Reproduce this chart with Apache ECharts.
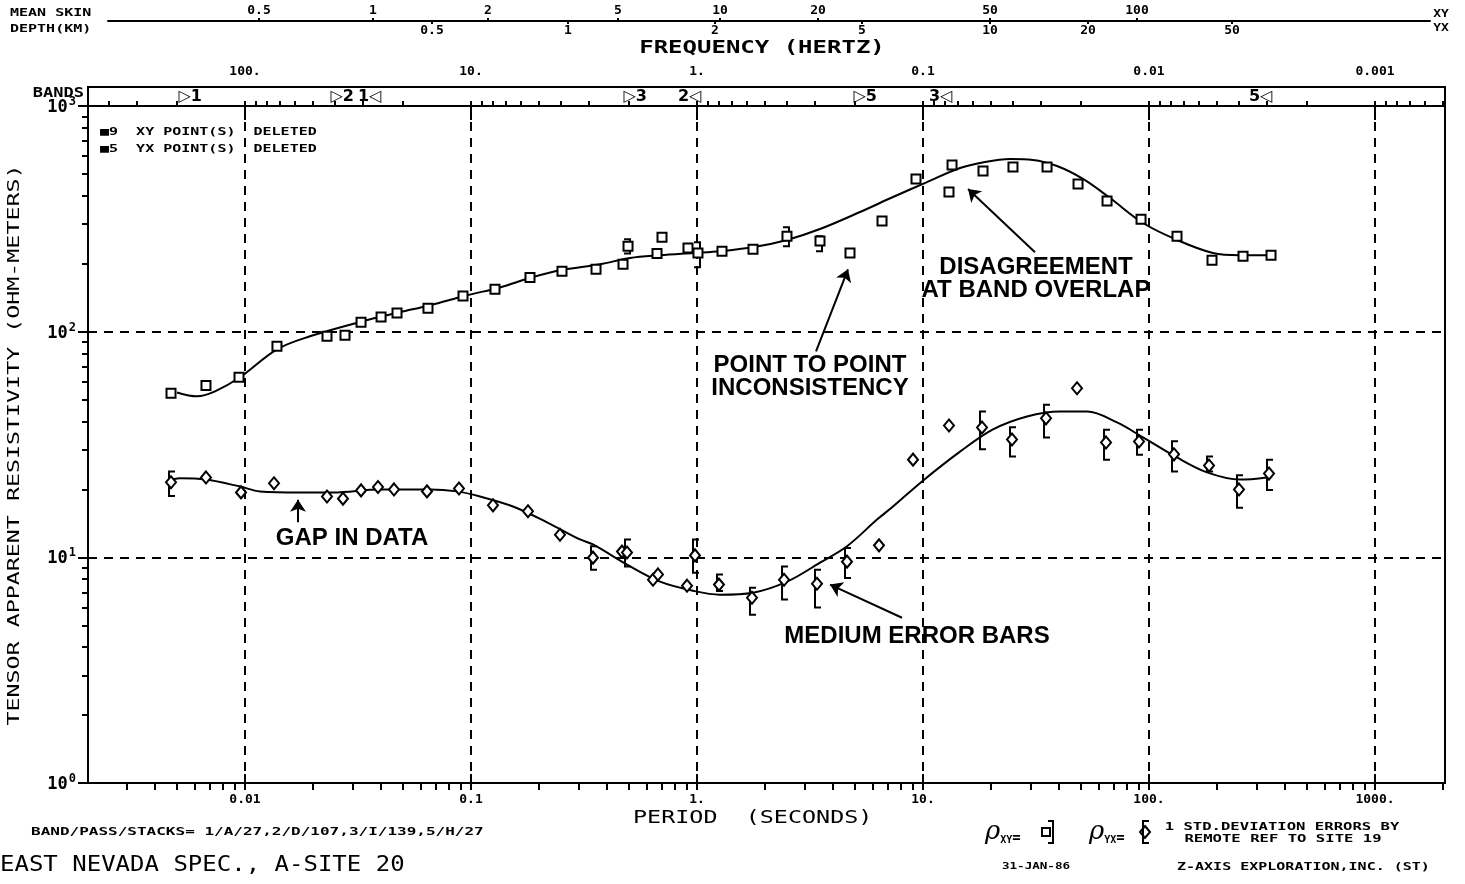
<!DOCTYPE html>
<html>
<head>
<meta charset="utf-8">
<title>East Nevada Spec., A-Site 20</title>
<script src="https://cdn.jsdelivr.net/npm/echarts@6.0.0/dist/echarts.min.js"></script>
<style>
html,body{margin:0;padding:0;background:#fff;}
#chart{width:1465px;height:884px;}
</style>
</head>
<body>
<div id="chart"></div>
<script>
// ---------- data ----------
// XY apparent resistivity (squares): period in seconds, resistivity in ohm-m
const xyPeriod = [0.004706,0.00672,0.00941,0.01385,0.02306,0.0277,0.03262,0.0400,0.04706,0.06451,0.09218,0.1277,0.1824,0.2527,0.3574,0.4706,0.4952,0.6653,0.700,0.9124,1.010,1.290,1.769,2.501,3.501,4.753,6.586,9.311,13.44,13.03,18.43,25.01,35.38,48.52,65.20,92.18,133.0,190.0,260.6,346.6];
const xyRho    = [53.3,57.8,62.8,86.1,95.4,96.4,110,116,121,127,144,154,174,185,189,199,239,222,262,235,223,227,232,265,252,223,309,475,548,416,515,537,537,451,379,315,265,207,216,218];

// XY error bars: period, lower, upper
const xyErrPeriod = [0.4952,1.010,2.501,3.501];
const xyErrLow    = [222,193,239,227];
const xyErrHigh   = [257,249,290,265];

// smooth XY model curve
const xyFitPeriod = [0.005002,0.006132,0.007367,0.009504,0.01385,0.01939,0.03294,0.04851,0.06586,0.09601,0.1344,0.1824,0.2476,0.3722,0.5051,0.6860,0.9699,1.264,1.787,2.501,3.501,5.263,7.367,10.42,14.58,18.81,24.27,30.66,39.16,51.05,67.21,94.08,133.0,191.9,252.7,346.6];
const xyFitRho    = [53.8,51.7,54.4,62.8,83.5,95.4,111,122,131,145,157,173,187,199,212,218,223,227,237,255,285,339,395,460,531,565,582,577,542,475,391,303,255,223,218,218];

// YX apparent resistivity (diamonds)
const yxPeriod = [0.004706,0.00672,0.009601,0.01344,0.02306,0.02714,0.03262,0.03877,0.04563,0.06387,0.08849,0.1251,0.1787,0.2476,0.3466,0.4657,0.4901,0.6387,0.672,0.9032,0.9798,1.251,1.751,2.427,3.396,4.610,6.387,9.032,13.03,18.24,24.76,35.02,48.02,64.54,90.32,129.0,184.3,250.1,339.6];
const yxRho    = [21.5,22.6,19.4,21.3,18.6,18.2,19.8,20.5,20.0,19.6,20.2,17.0,16.0,12.6,9.97,10.6,10.5,7.96,8.4,7.49,10.2,7.57,6.62,7.96,7.64,9.57,11.3,27.1,38.4,37.6,33.3,41.3,56.1,32.3,32.6,28.6,25.5,20.0,23.5];

// YX error bars
const yxErrPeriod = [0.004706,0.3466,0.4901,0.9798,1.251,1.751,2.427,3.396,4.610,18.24,24.76,35.02,64.54,90.32,129.0,184.3,250.1,339.6];
const yxErrLow    = [18.7,8.82,9.1,8.55,7.1,5.57,6.5,6.0,8.1,30.1,28.0,34.0,27.1,28.5,24.0,24.0,16.6,19.9];
const yxErrHigh   = [24.0,11.2,12.0,12.0,8.4,7.34,9.1,8.8,11.0,44.3,37.7,47.5,36.8,36.8,32.7,28.0,23.1,27.1];

// smooth YX model curve
const yxFitPeriod = [0.004518,0.005157,0.00672,0.009504,0.01165,0.01751,0.02452,0.03957,0.06586,0.08672,0.1096,0.1534,0.2169,0.3036,0.3466,0.4901,0.6860,0.9600,1.264,1.769,2.501,3.501,4.610,6.259,7.367,9.899,14.58,20.40,28.85,40.38,53.19,72.19,94.08,133.0,180.6,252.7,332.7];
const yxFitRho    = [21.7,22.4,22.1,20.6,19.6,19.4,19.4,20.0,20.0,19.6,18.6,16.8,14.3,12.0,11.4,9.28,7.80,7.11,6.83,6.97,7.80,9.47,11.2,14.7,16.8,21.7,29.4,36.9,42.1,44.3,44.3,39.6,34.0,27.7,23.8,22.1,22.6];

// band limits shown in the BANDS strip
const bandEdgePeriod = [0.005051,0.02377,0.04038,0.4706,1.052,4.901,13.57,353.8];
const bandEdgeText   = ['\u25B71','\u25B72','1\u25C1','\u25B73','2\u25C1','\u25B75','3\u25C1','5\u25C1'];

// tick labels
const periodDecades = [0.01,0.1,1,10,100,1000];
const periodLabels  = ['0.01','0.1','1.','10.','100.','1000.'];
const freqDecades   = [100,10,1,0.1,0.01,0.001];
const freqLabels    = ['100.','10.','1.','0.1','0.01','0.001'];
const rhoDecades    = [1,10,100,1000];
const rhoExponents  = ['0','1','2','3'];

// mean skin depth scale (km) and the periods where each value falls
const xyDepthKm     = ['0.5','1','2','5','10','20','50','100'];
const xyDepthPeriod = [0.01153,0.03684,0.1189,0.4471,1.264,3.430,19.79,88.49];
const yxDepthKm     = ['0.5','1','2','5','10','20','50'];
const yxDepthPeriod = [0.0672,0.2686,1.201,5.372,19.79,53.72,232.9];

// annotations: text position and arrows (period, resistivity)
const noteText   = ['POINT TO POINT\nINCONSISTENCY','DISAGREEMENT\nAT BAND OVERLAP','GAP IN DATA','MEDIUM ERROR BARS'];
const notePeriod = [3.162,31.62,0.02975,9.41];
const noteRho    = [62.8,171,12.1,4.45];
const arrowFrom  = [[3.362,81.8],[31.30,225],[0.01716,14.3],[8.075,5.40]];
const arrowTo    = [[4.657,189],[15.82,429],[0.01716,18.0],[3.877,7.57]];

// ---------- axis limits ----------
const PERIOD_MIN = 0.002020, PERIOD_MAX = 2040;
const DEPTH_MIN = 0.002476, DEPTH_MAX = 1751;

const MONO = '"DejaVu Sans Mono", "Liberation Mono", monospace';
const SANS = '"Liberation Sans", Arial, sans-serif';
const INK = '#000';
const CLEAR = 'rgba(0,0,0,0)';

function logTicks(lo, hi) {
  const out = [];
  for (let e = -4; e <= 4; e++) {
    for (let k = 1; k <= 9; k++) {
      const v = Number((k * Math.pow(10, e)).toPrecision(6));
      if (v >= lo * 0.9999 && v <= hi * 1.0001) out.push(v);
    }
  }
  return out;
}
function lookup(values, labels) {
  return function (v) {
    for (let i = 0; i < values.length; i++) {
      if (Math.abs(Math.log10(values[i]) - Math.log10(v)) < 1e-3) return labels[i];
    }
    return '';
  };
}
const zip = (a, b) => a.map((v, i) => [v, b[i]]);
const zip3 = (a, b, c) => a.map((v, i) => [v, b[i], c[i]]);

const tickFont = { fontFamily: MONO, fontWeight: 'bold', fontSize: 13, color: INK };
const hidden = { axisLine: { show: false }, axisTick: { show: false }, axisLabel: { show: false }, splitLine: { show: false } };
const tickLine = { color: INK, width: 2 };
const dashed = { color: INK, width: 2, type: [9, 7] };

// error bar drawn as a bracket: side = +1 caps to the right, -1 caps to the left
function bracket(side) {
  return function (params, api) {
    const t = api.value(0);
    const lo = api.coord([t, api.value(1)]);
    const hi = api.coord([t, api.value(2)]);
    const x = lo[0] - side * 2;
    const cap = side * 6;
    return {
      type: 'polyline',
      shape: { points: [[x + cap, hi[1]], [x, hi[1]], [x, lo[1]], [x + cap, lo[1]]] },
      style: { stroke: INK, lineWidth: 2, fill: null }
    };
  };
}

function txt(x, y, text, size, o) {
  o = o || {};
  const align = o.align || 'left';
  return {
    type: 'text', x: x, y: y, rotation: o.rot || 0, scaleX: o.sx || 1, scaleY: o.sy || 1,
    silent: true, z: 20,
    style: {
      text: text, fill: INK,
      font: (o.w || 'bold') + ' ' + size + 'px ' + (o.font || MONO),
      align: align, textAlign: align, verticalAlign: 'middle', textVerticalAlign: 'middle'
    }
  };
}

const chart = echarts.init(document.getElementById('chart'), null, { renderer: 'canvas' });

const option = {
  animation: false,
  backgroundColor: '#fff',
  grid: [
    { left: 88, right: 20, top: 106, bottom: 101, show: true, borderColor: INK, borderWidth: 2, backgroundColor: 'transparent' },
    { left: 88, right: 20, top: 87, height: 19, show: true, borderColor: INK, borderWidth: 2, backgroundColor: 'transparent' },
    { left: 108, right: 35, top: 20, height: 1, show: false }
  ],
  xAxis: [
    { // 0: period axis with labels, decade ticks and dashed grid
      type: 'log', gridIndex: 0, min: PERIOD_MIN, max: PERIOD_MAX, position: 'bottom',
      axisLine: { show: true, lineStyle: tickLine },
      axisTick: { show: true, inside: false, length: 7, customValues: periodDecades, lineStyle: tickLine },
      axisLabel: Object.assign({ show: true, customValues: periodDecades, formatter: lookup(periodDecades, periodLabels), margin: 10 }, tickFont),
      splitLine: { show: true, showMinLine: true, showMaxLine: true, lineStyle: dashed }
    },
    { // 1: outward minor ticks
      type: 'log', gridIndex: 0, min: PERIOD_MIN, max: PERIOD_MAX, position: 'bottom',
      axisLine: { show: false }, axisLabel: { show: false }, splitLine: { show: false },
      axisTick: { show: true, inside: false, length: 7, customValues: logTicks(PERIOD_MIN, PERIOD_MAX), lineStyle: tickLine }
    },
    { // 2: decade ticks pointing into the plot
      type: 'log', gridIndex: 0, min: PERIOD_MIN, max: PERIOD_MAX, position: 'bottom',
      axisLine: { show: false }, axisLabel: { show: false }, splitLine: { show: false },
      axisTick: { show: true, inside: true, length: 9, customValues: periodDecades, lineStyle: tickLine }
    },
    { // 3: decade ticks hanging from the top edge
      type: 'log', gridIndex: 0, min: PERIOD_MIN, max: PERIOD_MAX, position: 'top',
      axisLine: { show: false }, axisLabel: { show: false }, splitLine: { show: false },
      axisTick: { show: true, inside: true, length: 14, customValues: periodDecades, lineStyle: tickLine }
    },
    { // 4: frequency axis above the band strip
      type: 'log', gridIndex: 1, inverse: true, min: 1 / PERIOD_MAX, max: 1 / PERIOD_MIN, position: 'top',
      axisLine: { show: true, lineStyle: tickLine },
      axisTick: { show: true, inside: false, length: 5, customValues: logTicks(1 / PERIOD_MAX, 1 / PERIOD_MIN), lineStyle: tickLine },
      axisLabel: Object.assign({ show: true, customValues: freqDecades, formatter: lookup(freqDecades, freqLabels), margin: 9 }, tickFont),
      splitLine: { show: false }
    },
    // 5: period scale of the band strip
    Object.assign({ type: 'log', gridIndex: 1, min: PERIOD_MIN, max: PERIOD_MAX }, hidden),
    { // 6: skin depth, XY values above the line
      type: 'log', gridIndex: 2, min: DEPTH_MIN, max: DEPTH_MAX, position: 'top',
      axisLine: { show: true, lineStyle: tickLine },
      axisTick: { show: true, inside: false, length: 3, customValues: xyDepthPeriod, lineStyle: tickLine },
      axisLabel: Object.assign({ show: true, customValues: xyDepthPeriod, formatter: lookup(xyDepthPeriod, xyDepthKm), margin: 3 }, tickFont),
      splitLine: { show: false }
    },
    { // 7: skin depth, YX values below the line
      type: 'log', gridIndex: 2, min: DEPTH_MIN, max: DEPTH_MAX, position: 'bottom',
      axisLine: { show: false },
      axisTick: { show: true, inside: false, length: 3, customValues: yxDepthPeriod, lineStyle: tickLine },
      axisLabel: Object.assign({ show: true, customValues: yxDepthPeriod, formatter: lookup(yxDepthPeriod, yxDepthKm), margin: 3 }, tickFont),
      splitLine: { show: false }
    }
  ],
  yAxis: [
    { // 0: resistivity, decade labels and dashed grid
      type: 'log', gridIndex: 0, min: 1, max: 1000, position: 'left',
      axisLine: { show: true, lineStyle: tickLine },
      axisTick: { show: true, inside: false, length: 10, customValues: rhoDecades, lineStyle: tickLine },
      axisLabel: {
        show: true, customValues: rhoDecades, margin: 12,
        formatter: function (v) { return '{b|10}{s|' + lookup(rhoDecades, rhoExponents)(v) + '}'; },
        rich: {
          b: { fontFamily: MONO, fontWeight: 'bold', fontSize: 17, color: INK, lineHeight: 20, verticalAlign: 'bottom' },
          s: { fontFamily: MONO, fontWeight: 'bold', fontSize: 12, color: INK, lineHeight: 20, verticalAlign: 'top', padding: [0, 0, 0, 1] }
        }
      },
      splitLine: { show: true, showMinLine: false, showMaxLine: false, lineStyle: dashed }
    },
    Object.assign({ type: 'value', gridIndex: 1, min: 0, max: 1 }, hidden),
    Object.assign({ type: 'value', gridIndex: 2, min: 0, max: 1 }, hidden),
    { // 3: resistivity minor ticks on the left edge
      type: 'log', gridIndex: 0, min: 1, max: 1000, position: 'left',
      axisLine: { show: false }, axisLabel: { show: false }, splitLine: { show: false },
      axisTick: { show: true, inside: false, length: 6, customValues: logTicks(1, 1000), lineStyle: tickLine }
    }
  ],
  series: [
    {
      name: 'XY model', type: 'line', xAxisIndex: 0, yAxisIndex: 0, data: zip(xyFitPeriod, xyFitRho),
      smooth: 0.35, showSymbol: false, symbol: 'none', lineStyle: { color: INK, width: 2 }, z: 3, silent: true
    },
    {
      name: 'YX model', type: 'line', xAxisIndex: 0, yAxisIndex: 0, data: zip(yxFitPeriod, yxFitRho),
      smooth: 0.35, showSymbol: false, symbol: 'none', lineStyle: { color: INK, width: 2 }, z: 3, silent: true
    },
    {
      name: 'XY error', type: 'custom', xAxisIndex: 0, yAxisIndex: 0, renderItem: bracket(-1),
      encode: { x: 0, y: [1, 2] }, data: zip3(xyErrPeriod, xyErrLow, xyErrHigh), z: 4, silent: true
    },
    {
      name: 'YX error', type: 'custom', xAxisIndex: 0, yAxisIndex: 0, renderItem: bracket(1),
      encode: { x: 0, y: [1, 2] }, data: zip3(yxErrPeriod, yxErrLow, yxErrHigh), z: 4, silent: true
    },
    {
      name: 'XY', type: 'scatter', xAxisIndex: 0, yAxisIndex: 0, data: zip(xyPeriod, xyRho),
      symbol: 'rect', symbolSize: 9, itemStyle: { color: '#fff', borderColor: INK, borderWidth: 2, opacity: 1 }, z: 5, silent: true
    },
    {
      name: 'YX', type: 'scatter', xAxisIndex: 0, yAxisIndex: 0, data: zip(yxPeriod, yxRho),
      symbol: 'diamond', symbolSize: [10, 12], itemStyle: { color: '#fff', borderColor: INK, borderWidth: 2, opacity: 1 }, z: 5, silent: true
    },
    {
      name: 'bands', type: 'scatter', xAxisIndex: 5, yAxisIndex: 1, symbolSize: 1,
      itemStyle: { color: CLEAR, opacity: 1 }, silent: true, z: 6,
      data: bandEdgePeriod.map(function (t, i) {
        const opens = bandEdgeText[i].charAt(0) === '\u25B7';
        return { value: [t, 0.5], name: bandEdgeText[i], label: { position: opens ? 'right' : 'left', distance: 0 } };
      }),
      label: { show: true, formatter: '{b}', fontFamily: '"DejaVu Sans", sans-serif', fontWeight: 'bold', fontSize: 16, color: INK, opacity: 1, textBorderWidth: 0 }
    },
    {
      name: 'arrows', type: 'lines', coordinateSystem: 'cartesian2d', xAxisIndex: 0, yAxisIndex: 0,
      symbol: ['none', 'arrow'], symbolSize: [1, 12], silent: true, z: 6,
      lineStyle: { color: INK, width: 2, opacity: 1 },
      data: arrowFrom.map(function (f, i) { return { coords: [f, arrowTo[i]] }; })
    },
    {
      name: 'notes', type: 'scatter', xAxisIndex: 0, yAxisIndex: 0, symbolSize: 1,
      itemStyle: { color: CLEAR, opacity: 1 }, silent: true, z: 7,
      data: notePeriod.map(function (t, i) { return { value: [t, noteRho[i]], name: noteText[i] }; }),
      label: {
        show: true, position: 'inside', formatter: '{b}', align: 'center',
        fontFamily: SANS, fontWeight: 'bold', fontSize: 24, lineHeight: 23, color: INK, opacity: 1,
        textBorderWidth: 0, textBorderColor: 'transparent'
      }
    }
  ],
  graphic: [
    txt(10, 13, 'MEAN SKIN', 15, { sy: 0.65 }),
    txt(10, 29, 'DEPTH(KM)', 15, { sy: 0.65 }),
    txt(1441, 14, 'XY', 13, { align: 'center', sy: 0.75 }),
    txt(1441, 28, 'YX', 13, { align: 'center', sy: 0.75 }),
    txt(762, 49, 'FREQUENCY (HERTZ)', 24, { align: 'center', sy: 0.7 }),
    txt(84, 93, 'BANDS', 17, { align: 'right', sy: 0.8 }),
    txt(100, 132, '\u25A09  XY POINT(S)  DELETED', 15, { sy: 0.75 }),
    txt(100, 149, '\u25A05  YX POINT(S)  DELETED', 15, { sy: 0.75 }),
    txt(15, 445, 'TENSOR APPARENT RESISTIVITY (OHM-METERS)', 23.3, { align: 'center', rot: Math.PI / 2, sy: 0.7, w: 'normal' }),
    txt(633, 818, 'PERIOD  (SECONDS)', 23.4, { sy: 0.75, w: 'normal' }),
    txt(31, 832, 'BAND/PASS/STACKS= 1/A/27,2/D/107,3/I/139,5/H/27', 16, { sy: 0.65 }),
    txt(0, 865, 'EAST NEVADA SPEC., A-SITE 20', 24, { sy: 0.9, w: 'normal' }),
    {
      type: 'text', x: 985, y: 832, silent: true, z: 20,
      style: {
        text: '{r|\u03C1}{s|XY}{e|=}', verticalAlign: 'middle', textVerticalAlign: 'middle',
        rich: {
          r: { font: 'italic 26px "DejaVu Serif", serif', fill: INK, verticalAlign: 'bottom', lineHeight: 26 },
          s: { font: 'bold 10px ' + MONO, fill: INK, verticalAlign: 'bottom', lineHeight: 20 },
          e: { font: 'bold 14px ' + MONO, fill: INK, verticalAlign: 'bottom', lineHeight: 24 }
        }
      }
    },
    { type: 'rect', shape: { x: 1042, y: 828, width: 8, height: 8 }, style: { fill: '#fff', stroke: INK, lineWidth: 2 }, silent: true },
    { type: 'polyline', shape: { points: [[1048, 821], [1053, 821], [1053, 843], [1048, 843]] }, style: { stroke: INK, lineWidth: 2, fill: null }, silent: true },
    {
      type: 'text', x: 1089, y: 832, silent: true, z: 20,
      style: {
        text: '{r|\u03C1}{s|YX}{e|=}', verticalAlign: 'middle', textVerticalAlign: 'middle',
        rich: {
          r: { font: 'italic 26px "DejaVu Serif", serif', fill: INK, verticalAlign: 'bottom', lineHeight: 26 },
          s: { font: 'bold 10px ' + MONO, fill: INK, verticalAlign: 'bottom', lineHeight: 20 },
          e: { font: 'bold 14px ' + MONO, fill: INK, verticalAlign: 'bottom', lineHeight: 24 }
        }
      }
    },
    { type: 'polygon', shape: { points: [[1145, 826], [1150, 832], [1145, 838], [1140, 832]] }, style: { fill: '#fff', stroke: INK, lineWidth: 2 }, silent: true },
    { type: 'polyline', shape: { points: [[1149, 821], [1143, 821], [1143, 843], [1149, 843]] }, style: { stroke: INK, lineWidth: 2, fill: null }, silent: true },
    txt(1282, 827, '1 STD.DEVIATION ERRORS BY', 15.6, { align: 'center', sy: 0.68 }),
    txt(1283, 839, 'REMOTE REF TO SITE 19', 15.6, { align: 'center', sy: 0.68 }),
    txt(1036, 867, '31-JAN-86', 12.6, { align: 'center', sy: 0.7 }),
    txt(1177, 867, 'Z-AXIS EXPLORATION,INC. (ST)', 15, { sy: 0.68 })
  ]
};

chart.setOption(option);
</script>
</body>
</html>
